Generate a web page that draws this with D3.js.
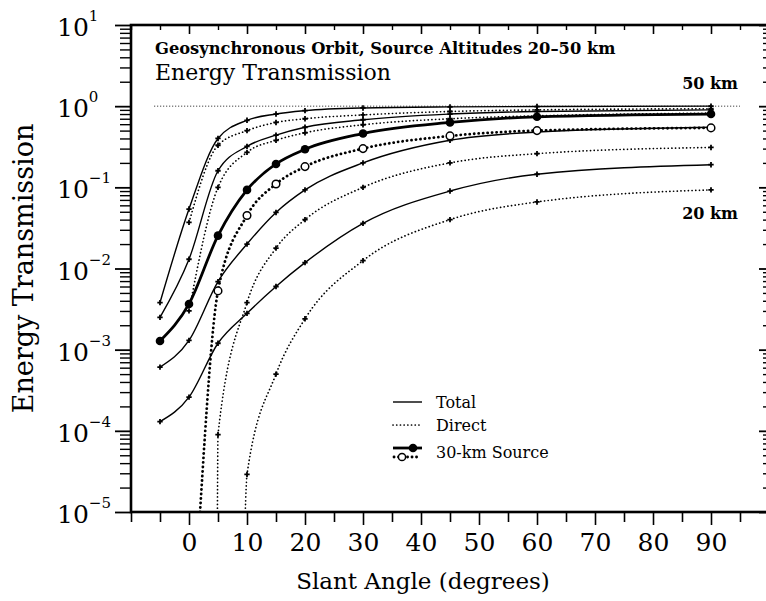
<!DOCTYPE html>
<html>
<head>
<meta charset="utf-8">
<script src="https://cdn.jsdelivr.net/npm/d3@7/dist/d3.min.js"></script>
<style>
  body { margin: 0; background: #fff; }
  text { font-family: "DejaVu Serif", "Liberation Serif", serif; fill: #000; }
</style>
</head>
<body>
<svg id="chart"></svg>
<script>
// slant angles where the curves were sampled (degrees)
const angles = [-5, 0, 5, 10, 15, 20, 30, 45, 60, 90];

// total energy transmission, one array per source altitude
const total50 = [3.8e-3, 0.054, 0.40, 0.67, 0.80, 0.88, 0.95, 0.98, 0.99, 1.0];
const total40 = [2.5e-3, 0.013, 0.16, 0.32, 0.44, 0.55, 0.68, 0.80, 0.86, 0.90];
const total30 = [1.28e-3, 3.66e-3, 0.0254, 0.093, 0.194, 0.294, 0.46, 0.63, 0.74, 0.80];
const total25 = [6.1e-4, 1.3e-3, 6.9e-3, 0.020, 0.049, 0.093, 0.20, 0.38, 0.48, 0.55];
const total20 = [1.3e-4, 2.6e-4, 1.2e-3, 2.8e-3, 6.0e-3, 0.0118, 0.036, 0.090, 0.145, 0.19];

// direct (unscattered) transmission, null = below the plot
const direct50 = [null, 0.037, 0.33, 0.50, 0.63, 0.70, 0.78, 0.86, 0.90, 0.93];
const direct40 = [null, 3.0e-3, 0.10, 0.27, 0.38, 0.47, 0.59, 0.70, 0.76, 0.82];
const direct30 = [null, null, 5.3e-3, 0.045, 0.11, 0.18, 0.30, 0.43, 0.50, 0.54];
const direct25 = [null, null, 9.0e-5, 3.8e-3, 0.0178, 0.040, 0.10, 0.20, 0.26, 0.31];
const direct20 = [null, null, null, 2.9e-5, 5.0e-4, 2.4e-3, 0.0125, 0.040, 0.066, 0.093];

// angle where each direct curve comes up off the bottom of the plot
const directFloorAngle = [null, null, 1.9, 4.9, 9.7];

const xMajorTicks = [0, 10, 20, 30, 40, 50, 60, 70, 80, 90];
const xMinorTicks = [-10, -5, 5, 15, 25, 35, 45, 55, 65, 75, 85, 95];
const yExponents = [1, 0, -1, -2, -3, -4, -5];
const altLabels = ["50 km", "20 km"];
const legendLabels = ["Total", "Direct", "30-km Source"];

const width = 766, height = 601;
const plotLeft = 131, plotRight = 769, plotTop = 25, plotBottom = 512;

const svg = d3.select("#chart")
  .attr("width", width)
  .attr("height", height);

const x = d3.scaleLinear().domain([-10, 100]).range([plotLeft, plotRight]);
const y = d3.scaleLog().domain([1e-5, 10]).range([plotBottom, plotTop]);

const yMinor = [];
yExponents.slice(1).forEach((e) => {
  for (let k = 2; k <= 9; k++) yMinor.push(k * Math.pow(10, e));
});
const yMajor = yExponents.map((e) => Math.pow(10, e));

// ---- axes ----
function styleAxis(g, w) {
  g.select(".domain").remove();
  g.selectAll(".tick line").attr("stroke", "#000").attr("stroke-width", w);
}

svg.append("g").attr("transform", `translate(0,${plotBottom})`)
  .call(d3.axisBottom(x).tickValues(xMinorTicks).tickSize(10).tickFormat(""))
  .call((g) => styleAxis(g, 1.6));
svg.append("g").attr("transform", `translate(0,${plotBottom})`)
  .call(d3.axisBottom(x).tickValues(xMajorTicks).tickSize(13).tickPadding(8).tickFormat(d3.format("d")))
  .call((g) => styleAxis(g, 1.6))
  .call((g) => g.selectAll("text").attr("font-size", 25).attr("font-family", "DejaVu Serif"));

svg.append("g").attr("transform", `translate(0,${plotTop})`)
  .call(d3.axisTop(x).tickValues(xMinorTicks).tickSize(-5).tickFormat(""))
  .call((g) => styleAxis(g, 1.4));
svg.append("g").attr("transform", `translate(0,${plotTop})`)
  .call(d3.axisTop(x).tickValues(xMajorTicks).tickSize(-9).tickFormat(""))
  .call((g) => styleAxis(g, 1.6));

svg.append("g").attr("transform", `translate(${plotLeft},0)`)
  .call(d3.axisLeft(y).tickValues(yMinor).tickSize(11).tickFormat(""))
  .call((g) => styleAxis(g, 1.4));
svg.append("g").attr("transform", `translate(${plotLeft},0)`)
  .call(d3.axisLeft(y).tickValues(yMajor).tickSize(16).tickFormat(""))
  .call((g) => styleAxis(g, 1.8));

svg.append("g").attr("transform", `translate(${plotRight},0)`)
  .call(d3.axisRight(y).tickValues(yMinor).tickSize(-6).tickFormat(""))
  .call((g) => styleAxis(g, 1.4));
svg.append("g").attr("transform", `translate(${plotRight},0)`)
  .call(d3.axisRight(y).tickValues(yMajor).tickSize(-10).tickFormat(""))
  .call((g) => styleAxis(g, 1.8));

// frame
svg.append("rect")
  .attr("x", plotLeft).attr("y", plotTop)
  .attr("width", plotRight - plotLeft).attr("height", plotBottom - plotTop)
  .attr("fill", "none").attr("stroke", "#000").attr("stroke-width", 2.6);

// y tick labels 10^n
const yLab = svg.append("g").selectAll("text")
  .data(yExponents).enter()
  .append("text")
  .attr("x", 57)
  .attr("y", (e) => y(Math.pow(10, e)) + 11)
  .attr("font-size", 25);
yLab.append("tspan").text("10");
yLab.append("tspan")
  .attr("dy", -15)
  .attr("font-size", 15)
  .text((e) => e < 0 ? "\u2212" + Math.abs(e) : String(e));

// axis titles
svg.append("text")
  .attr("transform", `translate(33,${(plotTop + plotBottom) / 2}) rotate(-90)`)
  .attr("text-anchor", "middle")
  .attr("font-size", 27)
  .text("Energy Transmission");
svg.append("text")
  .attr("x", 423).attr("y", 589)
  .attr("text-anchor", "middle")
  .attr("font-size", 23)
  .text("Slant Angle (degrees)");

// titles inside the frame
svg.append("text")
  .attr("x", 155).attr("y", 54)
  .attr("font-size", 16.3).attr("font-weight", "bold")
  .text("Geosynchronous Orbit, Source Altitudes 20\u201350 km");
svg.append("text")
  .attr("x", 155).attr("y", 80)
  .attr("font-size", 22)
  .text("Energy Transmission");

// ---- curves ----
svg.append("clipPath").attr("id", "plotclip")
  .append("rect")
  .attr("x", plotLeft).attr("y", plotTop)
  .attr("width", plotRight - plotLeft).attr("height", plotBottom - plotTop);

const plot = svg.append("g").attr("clip-path", "url(#plotclip)");

// reference line at unity
plot.append("line")
  .attr("x1", x(-6)).attr("x2", x(95))
  .attr("y1", y(1)).attr("y2", y(1))
  .attr("stroke", "#000").attr("stroke-width", 0.9)
  .attr("stroke-dasharray", "1,2");

const totals = [total50, total40, total30, total25, total20];
const directs = [direct50, direct40, direct30, direct25, direct20];

const line = d3.line()
  .x((d) => x(d[0]))
  .y((d) => y(d[1]))
  .curve(d3.curveMonotoneX);

function toPoints(vals) {
  return angles.map((a, i) => [a, vals[i]]).filter((d) => d[1] != null);
}

totals.forEach((vals, i) => {
  const bold = i === 2;
  plot.append("path")
    .datum(toPoints(vals))
    .attr("d", line)
    .attr("fill", "none")
    .attr("stroke", "#000")
    .attr("stroke-width", bold ? 2.8 : 1.4);
});

directs.forEach((vals, i) => {
  const bold = i === 2;
  let pts = toPoints(vals);
  if (directFloorAngle[i] != null) pts = [[directFloorAngle[i], 1e-5]].concat(pts);
  plot.append("path")
    .datum(pts)
    .attr("d", line)
    .attr("fill", "none")
    .attr("stroke", "#000")
    .attr("stroke-width", bold ? 2.8 : 1.7)
    .attr("stroke-linecap", "round")
    .attr("stroke-dasharray", bold ? "0.1,4.4" : "0.1,3.6");
});

// markers
const smallMark = d3.symbol().type(d3.symbolCross).size(16);
[totals, directs].forEach((group) => {
  group.forEach((vals, i) => {
    if (i === 2) return;
    plot.append("g").selectAll("path")
      .data(toPoints(vals)).enter()
      .append("path")
      .attr("transform", (d) => `translate(${x(d[0])},${y(d[1])})`)
      .attr("d", smallMark)
      .attr("fill", "#000");
  });
});
plot.append("g").selectAll("circle")
  .data(toPoints(total30)).enter()
  .append("circle")
  .attr("cx", (d) => x(d[0])).attr("cy", (d) => y(d[1]))
  .attr("r", 4.3).attr("fill", "#000");
plot.append("g").selectAll("circle")
  .data(toPoints(direct30)).enter()
  .append("circle")
  .attr("cx", (d) => x(d[0])).attr("cy", (d) => y(d[1]))
  .attr("r", 3.8).attr("fill", "#fff")
  .attr("stroke", "#000").attr("stroke-width", 1.5);

// altitude labels
svg.append("text")
  .attr("x", 738).attr("y", 89)
  .attr("text-anchor", "end")
  .attr("font-size", 16).attr("font-weight", "bold")
  .text(altLabels[0]);
svg.append("text")
  .attr("x", 738).attr("y", 219)
  .attr("text-anchor", "end")
  .attr("font-size", 16).attr("font-weight", "bold")
  .text(altLabels[1]);

// ---- legend ----
const lg = svg.append("g").attr("transform", "translate(393,0)");
lg.append("line").attr("x1", 0).attr("x2", 29).attr("y1", 402).attr("y2", 402)
  .attr("stroke", "#000").attr("stroke-width", 1.4);
lg.append("line").attr("x1", 0).attr("x2", 29).attr("y1", 425).attr("y2", 425)
  .attr("stroke", "#000").attr("stroke-width", 1.7)
  .attr("stroke-linecap", "round").attr("stroke-dasharray", "0.1,3.6");
lg.append("line").attr("x1", 0).attr("x2", 29).attr("y1", 448).attr("y2", 448)
  .attr("stroke", "#000").attr("stroke-width", 2.8);
lg.append("circle").attr("cx", 20).attr("cy", 448).attr("r", 4.3).attr("fill", "#000");
lg.append("line").attr("x1", 1).attr("x2", 28).attr("y1", 457).attr("y2", 457)
  .attr("stroke", "#000").attr("stroke-width", 2.8)
  .attr("stroke-linecap", "round").attr("stroke-dasharray", "0.1,4.4");
lg.append("circle").attr("cx", 9).attr("cy", 457).attr("r", 3.6)
  .attr("fill", "#fff").attr("stroke", "#000").attr("stroke-width", 1.5);
lg.selectAll(".lab")
  .data(legendLabels).enter()
  .append("text")
  .attr("class", "lab")
  .attr("x", 43)
  .attr("y", (d, i) => [408, 431, 458][i])
  .attr("font-size", 16)
  .text((d) => d);
</script>
</body>
</html>
